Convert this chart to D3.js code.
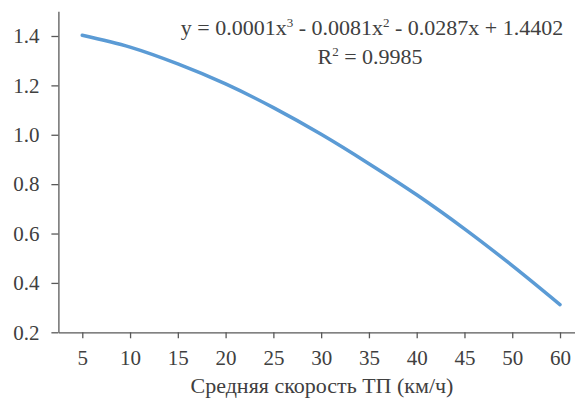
<!DOCTYPE html>
<html>
<head>
<meta charset="utf-8">
<script src="https://cdn.jsdelivr.net/npm/d3@7"></script>
<style>
  body { margin: 0; background: #fff; }
  svg text { font-family: "Liberation Serif", "Times New Roman", serif; fill: #404040; }
  .axis path, .axis line { stroke: #595959; stroke-width: 1.3; }
</style>
</head>
<body>
<div class="svg-container"></div>
<script>
// categories on the x axis (no 55 in the source)
const speeds = ['5', '10', '15', '20', '25', '30', '35', '40', '45', '50', '60'];
// values
const values = [1.403, 1.355, 1.287, 1.206, 1.110, 1.002, 0.883, 0.757, 0.619, 0.470, 0.312];
const yTicks = [0.2, 0.4, 0.6, 0.8, 1.0, 1.2, 1.4];
const xTitle = 'Средняя скорость ТП (км/ч)';

const data = speeds.map((s, i) => ({ speed: s, value: values[i] }));

const width = 575, height = 401;
const serif = '"Liberation Serif", "Times New Roman", serif';

const svg = d3.select('.svg-container')
  .append('svg')
  .attr('width', width)
  .attr('height', height);

const xScale = d3.scalePoint()
  .domain(speeds)
  .range([58.4, 583.9])
  .padding(0.5);

const yScale = d3.scaleLinear()
  .domain([0.2, 1.5])
  .range([332.3, 11.3]);

// axes
const yAxis = d3.axisLeft(yScale)
  .tickValues(yTicks)
  .tickFormat(d3.format('.1f'))
  .tickSizeInner(7)
  .tickSizeOuter(0)
  .tickPadding(12);

svg.append('g')
  .attr('class', 'y axis')
  .attr('transform', `translate(${xScale.range()[0]},0)`)
  .call(yAxis)
  .attr('font-family', serif)
  .attr('font-size', 21);

const xAxis = d3.axisBottom(xScale)
  .tickSizeInner(6)
  .tickSizeOuter(0)
  .tickPadding(12);

svg.append('g')
  .attr('class', 'x axis')
  .attr('transform', `translate(0,${yScale.range()[0]})`)
  .call(xAxis)
  .attr('font-family', serif)
  .attr('font-size', 21);

// the line
const line = d3.line()
  .x(d => xScale(d.speed))
  .y(d => yScale(d.value))
  .curve(d3.curveMonotoneX);

svg.append('path')
  .datum(data)
  .attr('fill', 'none')
  .attr('stroke', '#5B9BD5')
  .attr('stroke-width', 3.5)
  .attr('stroke-linecap', 'round')
  .attr('d', line);

// trendline equation
const eq = svg.append('text')
  .attr('x', 372)
  .attr('y', 35)
  .attr('text-anchor', 'middle')
  .style('font-size', '22px');
eq.append('tspan').text('y = 0.0001x');
eq.append('tspan').attr('dy', -8).style('font-size', '13px').text('3');
eq.append('tspan').attr('dy', 8).text(' - 0.0081x');
eq.append('tspan').attr('dy', -8).style('font-size', '13px').text('2');
eq.append('tspan').attr('dy', 8).text(' - 0.0287x + 1.4402');

const r2 = svg.append('text')
  .attr('x', 370)
  .attr('y', 64)
  .attr('text-anchor', 'middle')
  .style('font-size', '22px');
r2.append('tspan').text('R');
r2.append('tspan').attr('dy', -8).style('font-size', '13px').text('2');
r2.append('tspan').attr('dy', 8).text(' = 0.9985');

// axis title
svg.append('text')
  .attr('x', 322)
  .attr('y', 393)
  .attr('text-anchor', 'middle')
  .style('font-size', '22px')
  .text(xTitle);
</script>
</body>
</html>
